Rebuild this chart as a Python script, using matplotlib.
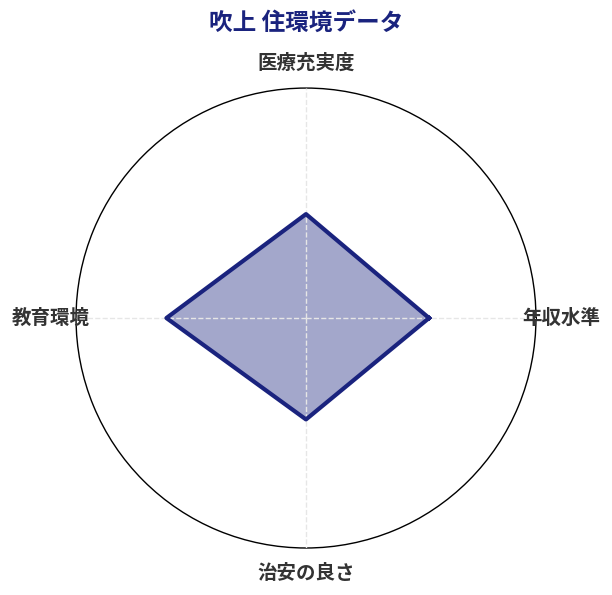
import numpy as np
import matplotlib
matplotlib.use("Agg")
import matplotlib.pyplot as plt

plt.rcParams['font.family'] = ['Noto Sans CJK JP', 'DejaVu Sans']

# データ (0-100 スケール)
labels = ['年収水準', '医療充実度', '教育環境', '治安の良さ']
values = [53.5, 45.2, 60.7, 44.1]
title = '吹上 住環境データ'

navy = '#1a237e'
rmax = 100

angles = np.linspace(0, 2 * np.pi, len(labels), endpoint=False)
ang_closed = np.append(angles, angles[0])
val_closed = np.append(values, values[0])

fig = plt.figure(figsize=(6.12, 5.95), dpi=100)
ax = fig.add_axes([0.1242, 0.079, 0.7516, 0.773], polar=True)

ax.fill(ang_closed, val_closed, color=navy, alpha=0.4, zorder=2)
ax.plot(ang_closed, val_closed, color=navy, linewidth=3, zorder=3)

ax.set_ylim(0, rmax)
ax.set_yticks([])
ax.set_xticks(angles)
ax.set_xticklabels([])
ax.xaxis.grid(True, color='#e6e6e6', linestyle='--', linewidth=1, zorder=4)
ax.set_axisbelow(False)
ax.spines['polar'].set_color('black')
ax.spines['polar'].set_linewidth(1)

# 軸ラベル (円の外側、中央揃え)
for a, lab in zip(angles, labels):
    ax.text(a, rmax * 1.11, lab, ha='center', va='center', fontsize=14,
            fontweight='bold', color='#333333', clip_on=False, zorder=5)

fig.text(0.5, 0.962, title, ha='center', va='center', fontsize=17,
         fontweight='bold', color=navy)

fig.savefig('out.png', dpi=100)
